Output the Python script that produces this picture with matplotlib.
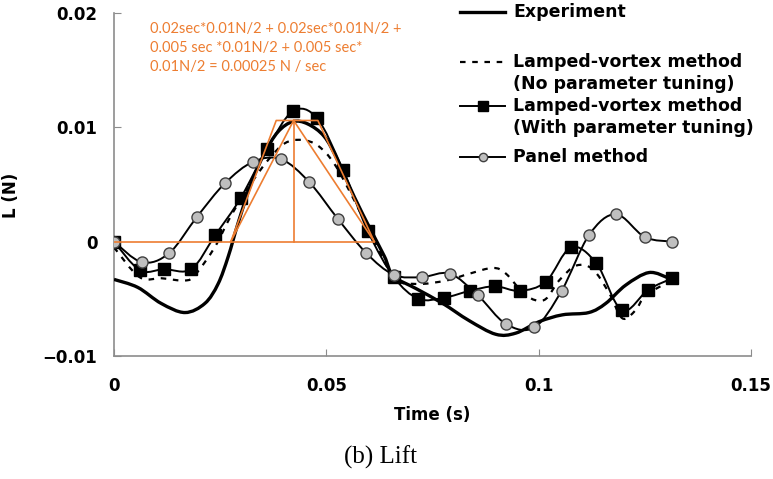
import numpy as np
import matplotlib
matplotlib.use("Agg")
import matplotlib.pyplot as plt
from matplotlib.path import Path
from matplotlib.patches import PathPatch

# datos (tiempo en s, sustentacion en N)
t_exp = [0, 0.0056, 0.0111, 0.0167, 0.0214, 0.0245, 0.0269, 0.0292, 0.0323, 0.0354,
         0.0386, 0.0421, 0.0456, 0.0495, 0.0527, 0.0566, 0.0605, 0.0637, 0.0658, 0.0711,
         0.0774, 0.0836, 0.0899, 0.0946, 0.1001, 0.1056, 0.1118, 0.1158, 0.1205, 0.1260,
         0.1307]
L_exp = [-0.0033, -0.0040, -0.0054, -0.0062, -0.0054, -0.0037, -0.0013, 0.0016, 0.0051, 0.0077,
         0.0096, 0.0105, 0.0103, 0.0092, 0.0071, 0.0039, 0.0010, -0.0013, -0.0030, -0.0041,
         -0.0054, -0.0069, -0.0081, -0.0080, -0.0070, -0.0064, -0.0062, -0.0054, -0.0038, -0.0027,
         -0.0032]

t_notune = [0, 0.0060, 0.0112, 0.0167, 0.0191, 0.0237, 0.0276, 0.0323, 0.0362, 0.0402,
            0.0441, 0.0480, 0.0519, 0.0566, 0.0605, 0.0659, 0.0711, 0.0782, 0.0837, 0.0892,
            0.0923, 0.0970, 0.1013, 0.1048, 0.1088, 0.1127, 0.1166, 0.1197, 0.1228, 0.1252,
            0.1307]
L_notune = [-0.0005, -0.0031, -0.0032, -0.0034, -0.0029, -0.0005, 0.0023, 0.0051, 0.0071, 0.0086,
            0.0089, 0.0084, 0.0068, 0.0036, 0.0007, -0.0031, -0.0037, -0.0034, -0.0028, -0.0023,
            -0.0028, -0.0047, -0.0051, -0.0034, -0.0021, -0.0024, -0.0045, -0.0067, -0.0060, -0.0047,
            -0.0035]

t_tune = [0, 0.0061, 0.0118, 0.0182, 0.0239, 0.0298, 0.0360, 0.0421, 0.0478, 0.0539,
          0.0598, 0.0659, 0.0717, 0.0778, 0.0838, 0.0897, 0.0955, 0.1017, 0.1076, 0.1136,
          0.1196, 0.1258, 0.1315]
L_tune = [0, -0.0025, -0.0024, -0.0024, 0.0006, 0.0038, 0.0081, 0.0114, 0.0108, 0.0063,
          0.0009, -0.0031, -0.0050, -0.0049, -0.0043, -0.0039, -0.0043, -0.0035, -0.0005, -0.0019,
          -0.0060, -0.0042, -0.0032]

t_panel = [0, 0.0066, 0.0130, 0.0196, 0.0261, 0.0328, 0.0394, 0.0460, 0.0527, 0.0594,
           0.0659, 0.0725, 0.0791, 0.0857, 0.0923, 0.0990, 0.1054, 0.1119, 0.1182, 0.1250,
           0.1315]
L_panel = [0, -0.0018, -0.0010, 0.0022, 0.0051, 0.0070, 0.0072, 0.0052, 0.0020, -0.0010,
           -0.0029, -0.0031, -0.0028, -0.0047, -0.0072, -0.0075, -0.0043, 0.0006, 0.0024, 0.0004,
           0]

# trapecio / triangulo naranja (estimacion del impulso)
t_zero = [0, 0.0613]
t_trap = [0.0275, 0.0382, 0.0480, 0.0613]
L_trap = [0, 0.0106, 0.0106, 0]
t_tri = [0.0275, 0.0423, 0.0613]
L_tri = [0, 0.0106, 0]
t_peak = 0.0423
L_peak = 0.0106

orange = "#ED7D31"
nota = ("0.02sec*0.01N/2 + 0.02sec*0.01N/2 +\n"
        "0.005 sec *0.01N/2 + 0.005 sec*\n"
        "0.01N/2 = 0.00025 N / sec")


def smooth_path(t, y):
    # curva suavizada tipo Excel (Catmull-Rom -> Bezier)
    p = np.column_stack([t, y])
    n = len(p)
    verts = [p[0]]
    codes = [Path.MOVETO]
    for i in range(n - 1):
        p0 = p[i - 1] if i > 0 else p[i]
        p3 = p[i + 2] if i + 2 < n else p[i + 1]
        c1 = p[i] + (p[i + 1] - p0) / 6
        c2 = p[i + 1] - (p3 - p[i]) / 6
        verts += [c1, c2, p[i + 1]]
        codes += [Path.CURVE4] * 3
    return Path(verts, codes)


fig = plt.figure(figsize=(7.73, 4.79), dpi=100)
ax = fig.add_axes([114 / 773, 1 - 356 / 479, 637 / 773, 343 / 479])

ax.add_patch(PathPatch(smooth_path(t_exp, L_exp), fill=False, ec="black", lw=2.4, zorder=3))
ax.add_patch(PathPatch(smooth_path(t_notune, L_notune), fill=False, ec="black", lw=1.6,
                       linestyle=(0, (2.5, 3)), zorder=3))
ax.add_patch(PathPatch(smooth_path(t_tune, L_tune), fill=False, ec="black", lw=1.4, zorder=3))
ax.plot(t_tune, L_tune, ls="none", marker="s", ms=8, mfc="black", mec="black", zorder=5)
ax.add_patch(PathPatch(smooth_path(t_panel, L_panel), fill=False, ec="black", lw=1.4, zorder=3))
ax.plot(t_panel, L_panel, ls="none", marker="o", ms=8, mfc="#BFBFBF", mec="#404040",
        mew=1.0, zorder=5)

# lineas naranjas
ax.plot(t_zero, [0, 0], color=orange, lw=1.2, zorder=6)
ax.plot(t_trap, L_trap, color=orange, lw=1.2, zorder=6)
ax.plot(t_tri, L_tri, color=orange, lw=1.2, zorder=6)
ax.plot([t_peak, t_peak], [0, L_peak], color=orange, lw=1.2, zorder=6)
ax.text(0.0085, 0.0192, nota, color=orange, fontsize=10.5, family="Lato",
        va="top", ha="left", linespacing=1.45)

ax.set_xlim(0, 0.15)
ax.set_ylim(-0.01, 0.02)
ax.set_xticks([0, 0.05, 0.1, 0.15])
ax.set_xticklabels(["0", "0.05", "0.1", "0.15"])
ax.set_yticks([-0.01, 0, 0.01, 0.02])
ax.set_yticklabels(["\u22120.01", "0", "0.01", "0.02"])
for s in ["top", "right"]:
    ax.spines[s].set_visible(False)
for s in ["left", "bottom"]:
    ax.spines[s].set_color("#8C8C8C")
    ax.spines[s].set_linewidth(1.2)
ax.tick_params(direction="in", length=5, color="#8C8C8C", labelsize=12)
ax.tick_params(axis="x", pad=15)
ax.tick_params(axis="y", pad=12)
for lab in ax.get_xticklabels() + ax.get_yticklabels():
    lab.set_fontweight("bold")

ax.set_xlabel("Time (s)", fontsize=12, fontweight="bold", labelpad=8)
ax.set_ylabel("L (N)", fontsize=12, fontweight="bold")
ax.yaxis.set_label_coords(-94 / 637, (356 - 195) / 343)

# leyenda manual
hx = [(460 - 114) / 637, (505 - 114) / 637]
tx = (513 - 114) / 637
fy = lambda py: (356 - py) / 343
kw = dict(transform=ax.transAxes, clip_on=False)
ax.plot(hx, [fy(12)] * 2, color="black", lw=2.4, **kw)
ax.plot(hx, [fy(62)] * 2, color="black", lw=1.6, ls=(0, (2.5, 3)), **kw)
ax.plot(hx, [fy(106)] * 2, color="black", lw=1.4, **kw)
ax.plot([sum(hx) / 2], [fy(106)], marker="s", ms=7, color="black", **kw)
ax.plot(hx, [fy(157)] * 2, color="black", lw=1.4, **kw)
ax.plot([sum(hx) / 2], [fy(157)], marker="o", ms=6, mfc="#BFBFBF", mec="#404040", **kw)
leyenda = [("Experiment", 12), ("Lamped-vortex method", 62), ("(No parameter tuning)", 84),
           ("Lamped-vortex method", 106), ("(With parameter tuning)", 128), ("Panel method", 157)]
for txt, py in leyenda:
    ax.text(tx, fy(py), txt, transform=ax.transAxes, fontsize=12.5, fontweight="bold",
            va="center", ha="left")

fig.text(380 / 773, 1 - 457 / 479, "(b) Lift", family="Liberation Serif", fontsize=18,
         ha="center", va="center")

fig.savefig("out.png", dpi=100)
